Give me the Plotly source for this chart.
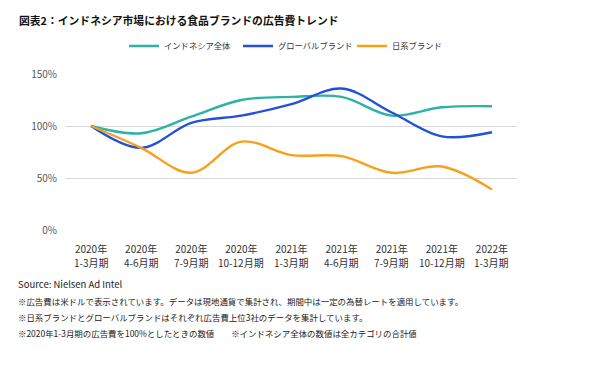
import plotly.graph_objects as go

years = ["2020年", "2020年", "2020年", "2020年", "2021年", "2021年", "2021年", "2021年", "2022年"]
periods = ["1-3月期", "4-6月期", "7-9月期", "10-12月期", "1-3月期", "4-6月期", "7-9月期", "10-12月期", "1-3月期"]
indonesia_total = [100, 93, 109, 125, 128, 128, 110, 118, 119]
global_brands = [100, 79, 103, 110, 121, 136, 113, 90, 94]
japan_brands = [100, 79, 55, 85, 72, 71, 55, 61, 39]
series_names = ["インドネシア全体", "グローバルブランド", "日系ブランド"]
colors = ["#2bb3a8", "#2250d8", "#f7a01c"]
y_ticks = [0, 50, 100, 150]
y_tick_labels = ["0%", "50%", "100%", "150%"]

title_text = "図表2：インドネシア市場における食品ブランドの広告費トレンド"
notes = [
    "Source: Nielsen Ad Intel",
    "※広告費は米ドルで表示されています。データは現地通貨で集計され、期間中は一定の為替レートを適用しています。",
    "※日系ブランドとグローバルブランドはそれぞれ広告費上位3社のデータを集計しています。",
    "※2020年1-3月期の広告費を100%としたときの数値　　※インドネシア全体の数値は全カテゴリの合計値",
]

FONT = "Noto Sans CJK JP"
L, R, T, B = 66, 78, 74, 139
PW, PH = 595 - L - R, 369 - T - B

xs = list(range(len(years)))
fig = go.Figure()
for name, vals, c in zip(series_names, [indonesia_total, global_brands, japan_brands], colors):
    fig.add_trace(go.Scatter(
        x=xs, y=vals, name=name, mode="lines",
        line=dict(color=c, width=2.4, shape="spline", smoothing=1.0),
    ))

fig.update_layout(
    width=595, height=369,
    margin=dict(l=L, r=R, t=T, b=B, autoexpand=False),
    paper_bgcolor="white", plot_bgcolor="white",
    font=dict(family=FONT, color="#333333", size=10),
    showlegend=True,
    legend=dict(orientation="h", x=124 / 595, xanchor="left", y=1 - 46 / 369, yanchor="middle",
                xref="container", yref="container",
                font=dict(size=8.3, family=FONT, color="#333333"),
                entrywidth=69, entrywidthmode="pixels", tracegroupgap=0),
    xaxis=dict(range=[-0.5, 8.5], tickmode="array", tickvals=xs,
               ticktext=years, showgrid=False, zeroline=False, showline=False,
               ticks="", ticklabelstandoff=12, tickfont=dict(size=10, color="#333333")),
    yaxis=dict(range=[0, 150], tickvals=y_ticks, ticktext=y_tick_labels,
               showgrid=True, gridcolor="#d9d9d9", gridwidth=1, zeroline=False,
               showline=False, ticks="", ticklabelstandoff=8,
               tickfont=dict(size=10, color="#595959")),
)

fig.add_annotation(text="<b>" + title_text + "</b>", xref="paper", yref="paper",
                   x=(17 - L) / PW, y=1 + (T - 20) / PH, showarrow=False,
                   xanchor="left", yanchor="middle",
                   font=dict(size=10.8, family=FONT, color="#111111"))

for i, p in enumerate(periods):
    fig.add_annotation(text=p, xref="x", yref="paper", x=xs[i], y=-(262 - 230) / PH,
                       showarrow=False, xanchor="center", yanchor="middle",
                       font=dict(size=10, family=FONT, color="#333333"))

for i, t in enumerate(notes):
    fig.add_annotation(text=t, xref="paper", yref="paper", x=(16 - L) / PW,
                       y=-(284.3 + i * 16.2 - 230) / PH,
                       showarrow=False, xanchor="left", yanchor="middle",
                       font=dict(size=9.5 if i == 0 else 8.45, family=FONT, color="#222222"))

fig.write_html("out.html", config={"displayModeBar": False},
               post_script="document.body.style.margin='0';")
